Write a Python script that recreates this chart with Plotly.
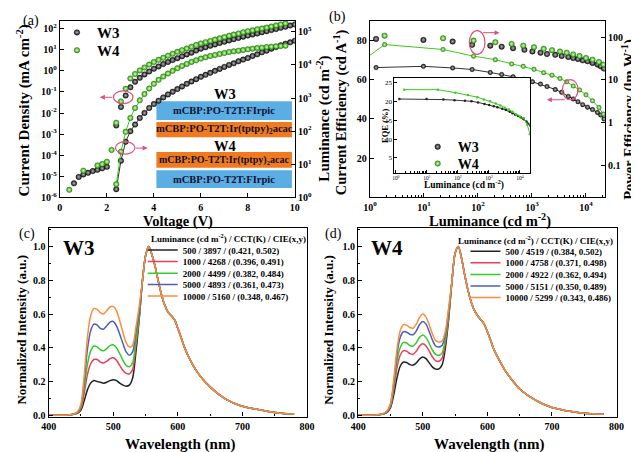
import plotly.graph_objects as go

FONT = "Liberation Serif"
W, H = 639, 452


def fx(p):
    return p / W


def fy(p):
    return 1 - p / H


# ---------------- (a) J-V-L data ----------------
V_W3_LOW = [0.6, 0.8, 1.0, 1.2, 1.4, 1.6, 1.8, 2.0]
J_W3_LOW_LOG10 = [-5.33, -5.03, -4.91, -4.83, -4.75, -4.69, -4.62, -4.55]
V_W4_LOW = [0.4, 1.0, 1.6, 1.8, 2.0, 2.2]
J_W4_LOW_LOG10 = [-5.64, -4.73, -4.48, -4.42, -4.31, -3.75]

V_W3 = [2.4, 2.6, 2.8, 3.0, 3.2, 3.4, 3.6, 3.8, 4.0, 4.2, 4.4, 4.6, 4.8, 5.0, 5.2,
        5.4, 5.6, 5.8, 6.0, 6.2, 6.4, 6.6, 6.8, 7.0, 7.2, 7.4, 7.6, 7.8, 8.0, 8.2,
        8.4, 8.6, 8.8, 9.0, 9.2, 9.4, 9.6, 9.8, 10.0]
V_W4 = [2.4, 2.6, 2.8, 3.0, 3.2, 3.4, 3.6, 3.8, 4.0, 4.2, 4.4, 4.6, 4.8, 5.0, 5.2,
        5.4, 5.6, 5.8, 6.0, 6.2, 6.4, 6.6, 6.8, 7.0, 7.2, 7.4, 7.6, 7.8, 8.0, 8.2,
        8.4, 8.6, 8.8, 9.0, 9.2, 9.4, 9.6]
J_W3_LOG10 = [-2.59, -1.71, -1.17, -0.78, -0.52, -0.33, -0.17, -0.03, 0.10, 0.21,
              0.32, 0.42, 0.51, 0.60, 0.69, 0.78, 0.86, 0.96, 1.05, 1.12, 1.19, 1.25,
              1.32, 1.38, 1.44, 1.50, 1.56, 1.62, 1.67, 1.72, 1.77, 1.83, 1.88, 1.93,
              1.98, 2.04, 2.09, 2.15, 2.20]
J_W4_LOG10 = [-2.46, -1.45, -0.85, -0.36, -0.15, 0.02, 0.16, 0.30, 0.42, 0.52, 0.62,
              0.72, 0.81, 0.90, 0.98, 1.06, 1.14, 1.22, 1.30, 1.36, 1.42, 1.48, 1.54,
              1.60, 1.66, 1.72, 1.77, 1.83, 1.88, 1.92, 1.97, 2.01, 2.05, 2.10, 2.15,
              2.20, 2.25]
L_W3_LOG10 = [0.25, 1.11, 1.68, 2.00, 2.20, 2.40, 2.55, 2.70, 2.82, 2.92, 3.02, 3.11,
              3.19, 3.27, 3.35, 3.43, 3.50, 3.57, 3.64, 3.70, 3.76, 3.82, 3.88, 3.94,
              4.00, 4.05, 4.11, 4.16, 4.21, 4.27, 4.32, 4.38, 4.43, 4.49, 4.54, 4.59,
              4.64, 4.68, 4.73]
L_W4_LOG10 = [0.40, 1.38, 1.98, 2.40, 2.70, 2.93, 3.12, 3.29, 3.43, 3.55, 3.65, 3.74,
              3.82, 3.90, 3.97, 4.03, 4.09, 4.14, 4.19, 4.23, 4.27, 4.30, 4.33, 4.36,
              4.39, 4.41, 4.43, 4.45, 4.47, 4.49, 4.51, 4.52, 4.54, 4.55, 4.56, 4.57,
              4.58]

# ---------------- (b) efficiency data ----------------
LUM_W3 = [1.3, 9.8, 34, 78, 169, 275, 447, 724, 1020, 1440, 1900, 2700, 3550, 4700,
          5800, 7100, 8700, 10700, 13200, 16300, 18700, 21500]
CE_W3 = [66.2, 66.8, 66.0, 65.2, 63.7, 62.7, 61.5, 60.2, 59.0, 57.8, 56.5, 55.0, 53.6,
         51.5, 50.2, 48.8, 47.3, 46.0, 44.8, 43.3, 42.0, 40.0]
PE_W3 = [90.6, 85.9, 78.7, 65.9, 63.1, 59.6, 55.1, 50.5, 46.1, 43.1, 40.1, 38.5, 36.1,
         34.2, 32.4, 30.8, 28.6, 27.2, 24.9, 22.8, 20.8, 18.4]
EQE_W3 = [20.7, 20.7, 20.55, 20.4, 20.25, 20.1, 19.8, 19.4, 19.1, 18.8, 18.5, 18.1,
          17.8, 17.3, 16.9, 16.5, 16.2, 15.8, 15.3, 14.7, 14.1, 13.6]

LUM_W4 = [0.9, 1.87, 22.6, 83, 210, 420, 690, 1090, 1650, 2350, 3300, 4400, 5800,
          7600, 10000, 13200, 17400, 21000]
CE_W4 = [71.5, 77.9, 75.4, 72.0, 70.2, 68.0, 66.8, 65.3, 63.6, 62.3, 60.6, 59.0, 56.8,
         54.8, 52.3, 49.3, 45.8, 42.5]
PE_W4 = [108.1, 93.8, 82.8, 75.9, 69.3, 63.1, 58.2, 53.2, 49.5, 46.1, 43.1, 39.4,
         36.1, 32.4, 29.6, 26.2, 22.8]          # at LUM_W4[1:]
EQE_W4 = [23.2, 23.2, 22.4, 21.8, 21.2, 20.6, 20.1, 19.5, 19.0, 18.4, 17.9, 17.3,
          16.6, 16.0, 15.6, 13.8, 11.3]          # at LUM_W4[1:]

# ---------------- (c),(d) EL spectra ----------------
WL_BLUE = [400, 420, 435, 440, 445, 450, 455, 460, 465, 470, 475, 480, 485, 490, 495,
           500, 505, 510, 515, 520, 525, 530, 535, 540]
WL_RED = [545, 550, 555, 560, 565, 570, 575, 580, 585, 590, 595, 600, 605, 610, 620,
          630, 640, 650, 660, 670, 680, 690, 700, 720, 740, 760, 780]

W3_500 = [0.0, 0.0, 0.003, 0.006, 0.012, 0.03, 0.085, 0.15, 0.19, 0.205, 0.2, 0.195,
          0.19, 0.195, 0.205, 0.21, 0.205, 0.19, 0.178, 0.172, 0.178, 0.22, 0.37, 0.56]
W3_1000 = [0.0, 0.0, 0.003, 0.007, 0.015, 0.04, 0.13, 0.24, 0.305, 0.33, 0.33, 0.315,
           0.31, 0.32, 0.335, 0.34, 0.325, 0.295, 0.265, 0.248, 0.245, 0.27, 0.41, 0.57]
W3_2000 = [0.0, 0.0, 0.003, 0.007, 0.017, 0.045, 0.16, 0.3, 0.38, 0.41, 0.405, 0.388,
           0.382, 0.395, 0.412, 0.418, 0.4, 0.365, 0.325, 0.295, 0.287, 0.31, 0.44, 0.58]
W3_5000 = [0.0, 0.0, 0.004, 0.008, 0.02, 0.055, 0.2, 0.39, 0.5, 0.54, 0.535, 0.515,
           0.51, 0.53, 0.552, 0.556, 0.53, 0.48, 0.425, 0.375, 0.356, 0.375, 0.49, 0.61]
W3_10000 = [0.0, 0.0, 0.004, 0.009, 0.022, 0.065, 0.23, 0.46, 0.59, 0.632, 0.628, 0.608,
            0.6, 0.62, 0.643, 0.645, 0.62, 0.56, 0.49, 0.43, 0.404, 0.415, 0.52, 0.64]
W3_TAIL = [0.79, 0.945, 1.0, 0.95, 0.88, 0.79, 0.71, 0.65, 0.61, 0.59, 0.565, 0.515,
           0.46, 0.405, 0.32, 0.255, 0.207, 0.168, 0.134, 0.106, 0.083, 0.066, 0.053,
           0.036, 0.022, 0.012, 0.007]

W4_500 = [0.0, 0.0, 0.004, 0.008, 0.018, 0.045, 0.12, 0.22, 0.29, 0.315, 0.312, 0.3,
          0.297, 0.31, 0.333, 0.345, 0.335, 0.31, 0.285, 0.273, 0.275, 0.3, 0.4, 0.57]
W4_1000 = [0.0, 0.0, 0.004, 0.009, 0.02, 0.052, 0.15, 0.28, 0.355, 0.383, 0.38, 0.365,
           0.361, 0.38, 0.41, 0.423, 0.41, 0.38, 0.345, 0.322, 0.32, 0.34, 0.43, 0.58]
W4_2000 = [0.0, 0.0, 0.004, 0.01, 0.022, 0.058, 0.17, 0.32, 0.4, 0.432, 0.428, 0.413,
           0.41, 0.43, 0.462, 0.476, 0.46, 0.425, 0.385, 0.36, 0.355, 0.37, 0.45, 0.6]
W4_5000 = [0.0, 0.0, 0.005, 0.011, 0.025, 0.065, 0.19, 0.36, 0.46, 0.495, 0.492, 0.48,
           0.477, 0.5, 0.538, 0.556, 0.54, 0.495, 0.445, 0.41, 0.404, 0.415, 0.48, 0.62]
W4_10000 = [0.0, 0.0, 0.005, 0.012, 0.027, 0.07, 0.21, 0.39, 0.5, 0.537, 0.534, 0.52,
            0.516, 0.54, 0.58, 0.6, 0.582, 0.535, 0.48, 0.442, 0.434, 0.44, 0.5, 0.635]
W4_TAIL = [0.79, 0.96, 1.0, 0.93, 0.83, 0.74, 0.67, 0.62, 0.59, 0.565, 0.54, 0.495,
           0.445, 0.39, 0.315, 0.25, 0.2, 0.155, 0.125, 0.1, 0.078, 0.06, 0.045, 0.028,
           0.016, 0.009, 0.006]

LUM_LEVELS = [500, 1000, 2000, 5000, 10000]
CCT_W3 = [3897, 4268, 4499, 4893, 5160]
CIE_W3 = [(0.421, 0.502), (0.396, 0.491), (0.382, 0.484), (0.361, 0.473), (0.348, 0.467)]
CCT_W4 = [4519, 4758, 4922, 5151, 5299]
CIE_W4 = [(0.384, 0.502), (0.371, 0.498), (0.362, 0.494), (0.350, 0.489), (0.343, 0.486)]
SPEC_COLORS = ["#222222", "#ee3b58", "#33cc2a", "#4b5fb4", "#ff8c3c"]

# ---------------- styles ----------------
def ball(kind, size):
    if kind == "k":
        return dict(size=size, color="#141414",
                    gradient=dict(type="radial", color="#b8b8b8"),
                    line=dict(width=0.4, color="#000000"))
    return dict(size=size, color="#2c9c0c",
                gradient=dict(type="radial", color="#dcffc0"),
                line=dict(width=0.4, color="#1d6d05"))


fig = go.Figure()

# (a) current density
fig.add_trace(go.Scatter(x=V_W3_LOW + V_W3, y=[10 ** v for v in J_W3_LOW_LOG10 + J_W3_LOG10],
                         mode="markers", marker=ball("k", 5.5), name="W3",
                         xaxis="x", yaxis="y", legend="legend"))
fig.add_trace(go.Scatter(x=V_W4_LOW + V_W4, y=[10 ** v for v in J_W4_LOW_LOG10 + J_W4_LOG10],
                         mode="markers", marker=ball("g", 5.5), name="W4",
                         xaxis="x", yaxis="y", legend="legend2"))
# (a) luminance
fig.add_trace(go.Scatter(x=V_W3, y=[10 ** v for v in L_W3_LOG10], mode="lines+markers",
                         line=dict(color="#333333", width=1), marker=ball("k", 5.5),
                         xaxis="x", yaxis="y2", showlegend=False))
fig.add_trace(go.Scatter(x=V_W4, y=[10 ** v for v in L_W4_LOG10], mode="lines+markers",
                         line=dict(color="#3acc1a", width=1), marker=ball("g", 5.5),
                         xaxis="x", yaxis="y2", showlegend=False))

# (b) current efficiency
fig.add_trace(go.Scatter(x=LUM_W3, y=CE_W3, mode="lines+markers",
                         line=dict(color="#333333", width=1), marker=ball("k", 4.5),
                         xaxis="x2", yaxis="y3", showlegend=False))
fig.add_trace(go.Scatter(x=LUM_W4, y=CE_W4, mode="lines+markers",
                         line=dict(color="#3acc1a", width=1), marker=ball("g", 4.5),
                         xaxis="x2", yaxis="y3", showlegend=False))
# (b) power efficiency
fig.add_trace(go.Scatter(x=LUM_W3, y=PE_W3, mode="markers", marker=ball("k", 5.5),
                         name="W3", xaxis="x2", yaxis="y4", legend="legend13"))
fig.add_trace(go.Scatter(x=LUM_W4[1:], y=PE_W4, mode="markers", marker=ball("g", 5.5),
                         name="W4", xaxis="x2", yaxis="y4", legend="legend14"))
# (b) inset EQE
fig.add_trace(go.Scatter(x=LUM_W3, y=EQE_W3, mode="lines+markers",
                         line=dict(color="#333333", width=1), marker=dict(size=2.5, color="#222"),
                         xaxis="x3", yaxis="y5", showlegend=False))
fig.add_trace(go.Scatter(x=LUM_W4[1:], y=EQE_W4, mode="lines+markers",
                         line=dict(color="#3acc1a", width=1), marker=dict(size=2.5, color="#3acc1a"),
                         xaxis="x3", yaxis="y5", showlegend=False))

# (c) W3 spectra
w3_specs = [W3_500, W3_1000, W3_2000, W3_5000, W3_10000]
for i, spec in enumerate(w3_specs):
    name = f"{LUM_LEVELS[i]} / {CCT_W3[i]} / ({CIE_W3[i][0]:.3f}, {CIE_W3[i][1]:.3f})"
    fig.add_trace(go.Scatter(x=WL_BLUE + WL_RED, y=spec + W3_TAIL, mode="lines",
                             line=dict(color=SPEC_COLORS[i], width=1.5, shape="spline", smoothing=0.8),
                             name=name, xaxis="x4", yaxis="y6", legend=f"legend{3 + i}"))
# (d) W4 spectra
w4_specs = [W4_500, W4_1000, W4_2000, W4_5000, W4_10000]
for i, spec in enumerate(w4_specs):
    name = f"{LUM_LEVELS[i]} / {CCT_W4[i]} / ({CIE_W4[i][0]:.3f}, {CIE_W4[i][1]:.3f})"
    fig.add_trace(go.Scatter(x=WL_BLUE + WL_RED, y=spec + W4_TAIL, mode="lines",
                             line=dict(color=SPEC_COLORS[i], width=1.5, shape="spline", smoothing=0.8),
                             name=name, xaxis="x5", yaxis="y7", legend=f"legend{8 + i}"))


# ---------------- axes ----------------
def axis(size=10, bold=True, **kw):
    d = dict(showline=True, linecolor="black", linewidth=1.3, mirror=True,
             ticks="inside", ticklen=4, tickwidth=1, tickcolor="black",
             showgrid=False, zeroline=False,
             tickfont=dict(family=FONT, size=size, color="black",
                           weight="bold" if bold else "normal"))
    d.update(kw)
    return d


def pow10(lo, hi):
    return [10.0 ** k for k in range(lo, hi + 1)], [f"10<sup>{k}</sup>" for k in range(lo, hi + 1)]


tv_a, tt_a = pow10(-6, 2)
tv_a2, tt_a2 = pow10(0, 5)
tv_b, tt_b = pow10(0, 4)

layout = dict(
    width=W, height=H, margin=dict(l=0, r=0, t=0, b=0),
    paper_bgcolor="white", plot_bgcolor="white", showlegend=True,
    xaxis=axis(domain=[fx(45), fx(286)], range=[0, 10], anchor="y",
               tickvals=[0, 2, 4, 6, 8, 10], ticklabelstandoff=0),
    yaxis=axis(domain=[fy(192), fy(13)], type="log", range=[-6, 2.37], anchor="x",
               tickvals=tv_a, ticktext=tt_a),
    yaxis2=axis(overlaying="y", side="right", type="log", range=[0, 5.33], anchor="x",
                tickvals=tv_a2, ticktext=tt_a2, mirror=False),
    xaxis2=axis(domain=[fx(363), fx(604)], type="log", range=[0, 4.35], anchor="y3",
                tickvals=tv_b, ticktext=tt_b, ticklabelstandoff=0,
                minor=dict(ticks="inside", ticklen=2, dtick="D1", tickcolor="black")),
    yaxis3=axis(domain=[fy(192), fy(13)], range=[0, 90], anchor="x2",
                tickvals=[20, 40, 60, 80]),
    yaxis4=axis(overlaying="y3", side="right", type="log", range=[-1.75, 2.38], anchor="x2",
                tickvals=[0.1, 1, 10, 100], ticktext=["0.1", "1", "10", "100"], mirror=False),
    xaxis3=axis(size=5.5, bold=False, domain=[fx(388), fx(527)], type="log", range=[-0.05, 4.32],
                anchor="y5", tickvals=tv_b, ticktext=tt_b, ticklen=3, linewidth=1,
                ticklabelstandoff=0,
                minor=dict(ticks="inside", ticklen=1.5, dtick="D1", tickcolor="black")),
    yaxis5=axis(size=7, bold=False, domain=[fy(167), fy(71)], range=[1, 26.3], anchor="x3",
                tickvals=[5, 10, 15, 20, 25], ticklen=3, linewidth=1),
    xaxis4=axis(domain=[fx(33.5), fx(298.5)], range=[400, 800], anchor="y6",
                tickvals=[400, 500, 600, 700, 800], ticklabelstandoff=0,
                minor=dict(ticks="inside", ticklen=2, dtick=50, tick0=400, tickcolor="black")),
    yaxis6=axis(domain=[fy(414), fy(223)], range=[-0.008, 1.11], anchor="x4",
                tickvals=[0, 0.2, 0.4, 0.6, 0.8, 1.0], tickformat=".1f",
                minor=dict(ticks="inside", ticklen=2, dtick=0.1, tick0=0, tickcolor="black")),
    xaxis5=axis(domain=[fx(351), fx(616)], range=[400, 800], anchor="y7",
                tickvals=[400, 500, 600, 700, 800], ticklabelstandoff=0,
                minor=dict(ticks="inside", ticklen=2, dtick=50, tick0=400, tickcolor="black")),
    yaxis7=axis(domain=[fy(414), fy(223)], range=[-0.008, 1.11], anchor="x5",
                tickvals=[0, 0.2, 0.4, 0.6, 0.8, 1.0], tickformat=".1f",
                minor=dict(ticks="inside", ticklen=2, dtick=0.1, tick0=0, tickcolor="black")),
)


def leg(xp, yp, size):
    return dict(x=fx(xp), y=fy(yp), xanchor="left", yanchor="middle",
                bgcolor="rgba(0,0,0,0)", borderwidth=0, itemwidth=30, tracegroupgap=0,
                font=dict(family=FONT, size=size, color="black", weight="bold"))


layout["legend"] = leg(42, 25, 15)
layout["legend2"] = leg(42, 43, 15)
layout["legend13"] = leg(412, 141, 14)
layout["legend14"] = leg(412, 158, 14)
for i, yy in enumerate([245.3, 257, 268.7, 280.3, 292]):
    layout[f"legend{3 + i}"] = leg(130, yy, 9)
for i, yy in enumerate([246.5, 258.3, 270, 281.8, 293.5]):
    layout[f"legend{8 + i}"] = leg(461, yy, 9)

fig.update_layout(**layout)

# ---------------- annotations ----------------
ann = []


def text(x, y, s, size, bold=True, angle=0, color="black"):
    ann.append(dict(x=fx(x), y=fy(y), xref="paper", yref="paper", text=s, showarrow=False,
                    textangle=angle, xanchor="center", yanchor="middle",
                    font=dict(family=FONT, size=size, color=color,
                              weight="bold" if bold else "normal")))


text(15, 13, "(a)", 14, bold=False)
text(330, 9, "(b)", 14, bold=False)
text(11, 229, "(c)", 14, bold=False)
text(326, 229, "(d)", 14, bold=False)

text(8, 104, "Current Density (mA cm<sup>-2</sup>)", 15, angle=-90)
text(315, 112, "Luminance (cd m<sup>-2</sup>)", 15, angle=-90)
text(166, 216, "Voltage (V)", 14.5)
text(333, 106, "Current Efficiency (cd A<sup>-1</sup>)", 14.5, angle=-90)
text(628, 113, "Power Efficiency (lm W<sup>-1</sup>)", 14.5, angle=-90)
text(486, 215, "Luminance (cd m<sup>-2</sup>)", 14.5)
text(379, 120, "EQE (%)", 8.5, angle=-90)
text(460, 179, "Luminance (cd m<sup>-2</sup>)", 9.5)
text(6, 326, "Normalized Intensity (a.u.)", 13, angle=-90)
text(168, 442, "Wavelength (nm)", 15)
text(321, 326, "Normalized Intensity (a.u.)", 13, angle=-90)
text(485, 442, "Wavelength (nm)", 15)
text(65, 243, "W3", 21)
text(381, 243, "W4", 21)
text(217.5, 233, "Luminance (cd m<sup>-2</sup>) / CCT(K) / CIE(x,y)", 9)
text(533, 235, "Luminance (cd m<sup>-2</sup>) / CCT(K) / CIE(x,y)", 9)

# device structure boxes in (a)
text(214, 87, "W3", 14.5)
text(213.5, 104, "mCBP:PO-T2T:FIrpic", 10.5, color="#111133")
text(213.5, 123.5, "mCBP:PO-T2T:Ir(tptpy)<sub>2</sub>acac", 10.5, color="#111133")
text(214, 139.5, "W4", 14.5)
text(213.5, 154.5, "mCBP:PO-T2T:Ir(tptpy)<sub>2</sub>acac", 10, color="#111133")
text(213.5, 173.5, "mCBP:PO-T2T:FIrpic", 10.5, color="#111133")

PINK = "#e0507a"


def arrow(xh, yh, xt, yt):
    ann.append(dict(x=fx(xh), y=fy(yh), xref="paper", yref="paper", text="",
                    showarrow=True, ax=xt - xh, ay=yt - yh, arrowhead=2, arrowsize=1,
                    arrowwidth=1, arrowcolor=PINK))


arrow(86, 90.5, 100, 90.5)
arrow(135, 142, 122, 142)
arrow(496, 25, 478, 25)
arrow(544.5, 93, 564, 93)

fig.update_layout(annotations=ann)

shapes = []
BLUE_BOX = "#5aaee3"
ORANGE_BOX = "#f07a1e"
for (y0, y1, c) in [(94.5, 113.5, BLUE_BOX), (115.5, 131, ORANGE_BOX),
                    (146, 162, ORANGE_BOX), (164.5, 182.5, BLUE_BOX)]:
    shapes.append(dict(type="rect", xref="paper", yref="paper", x0=fx(144), x1=fx(283),
                       y0=fy(y1), y1=fy(y0), fillcolor=c, line=dict(width=0), layer="below"))
for (x0, x1, y0, y1) in [(100, 120, 84, 97), (102, 122, 135.5, 148),
                         (465, 481, 23, 47), (560.5, 576.5, 72.5, 93)]:
    shapes.append(dict(type="circle", xref="paper", yref="paper", x0=fx(x0), x1=fx(x1),
                       y0=fy(y1), y1=fy(y0), line=dict(color=PINK, width=1.2)))
fig.update_layout(shapes=shapes)

fig.write_html("out.html")
